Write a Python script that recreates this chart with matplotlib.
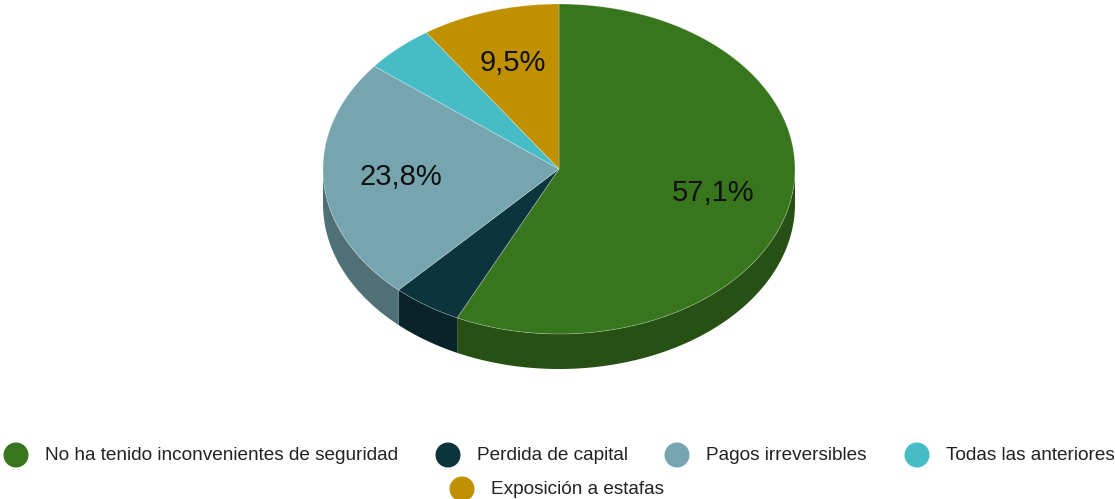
import numpy as np
import matplotlib
matplotlib.use("Agg")
import matplotlib.pyplot as plt
from matplotlib.patches import Polygon, Ellipse
from matplotlib.colors import to_rgb

labels = ["No ha tenido inconvenientes de seguridad", "Perdida de capital",
          "Pagos irreversibles", "Todas las anteriores", "Exposición a estafas"]
values = [57.1, 4.8, 23.8, 4.8, 9.5]
pct_labels = ["57,1%", "4,8%", "23,8%", "4,8%", "9,5%"]
colors = ["#38761d", "#0c343d", "#76a5af", "#46bdc6", "#bf9000"]

W, H = 1115, 499
fig = plt.figure(figsize=(W / 100, H / 100), dpi=100)
ax = fig.add_axes([0, 0, 1, 1])
ax.set_xlim(0, W)
ax.set_ylim(H, 0)
ax.axis("off")

cx, cy, rx, ry, depth = 559, 169, 236, 165, 35
font = "Liberation Sans"


def pt(theta, dz=0):
    return cx + rx * np.sin(theta), cy - ry * np.cos(theta) + dz


def darker(c, f=0.68):
    r, g, b = to_rgb(c)
    return (r * f, g * f, b * f)


total = sum(values)
bounds = np.concatenate([[0], np.cumsum(values)]) / total * 2 * np.pi

# sides (front half: theta in [pi/2, 3pi/2])
for i, c in enumerate(colors):
    a0, a1 = bounds[i], bounds[i + 1]
    s0, s1 = max(a0, np.pi / 2), min(a1, 3 * np.pi / 2)
    if s1 <= s0:
        continue
    th = np.linspace(s0, s1, 100)
    top = [pt(t) for t in th]
    bot = [pt(t, depth) for t in th[::-1]]
    ax.add_patch(Polygon(top + bot, closed=True, facecolor=darker(c),
                         edgecolor="none", zorder=1))

# tops
for i, c in enumerate(colors):
    a0, a1 = bounds[i], bounds[i + 1]
    th = np.linspace(a0, a1, 200)
    poly = [(cx, cy)] + [pt(t) for t in th]
    ax.add_patch(Polygon(poly, closed=True, facecolor=c,
                         edgecolor=(1, 1, 1, 0.3), linewidth=0.6, zorder=2))

# percentage labels
for i, v in enumerate(values):
    if v < 9:
        continue
    mid = (bounds[i] + bounds[i + 1]) / 2
    f = 0.67
    x, y = cx + rx * f * np.sin(mid), cy - ry * f * np.cos(mid)
    ax.text(x, y, pct_labels[i], ha="center", va="center", fontsize=21,
            family=font, color="#111111", zorder=3)

# legend
leg_pos = [(16, 455), (448, 455), (677, 455), (917, 455), (462, 489)]
for (lx, ly), lab, c in zip(leg_pos, labels, colors):
    ax.add_patch(Ellipse((lx, ly), 25, 25, facecolor=c, edgecolor="none"))
    ax.text(lx + 29, ly, lab, ha="left", va="center", fontsize=13.7,
            family=font, color="#222222")

fig.savefig("out.png", dpi=100)
